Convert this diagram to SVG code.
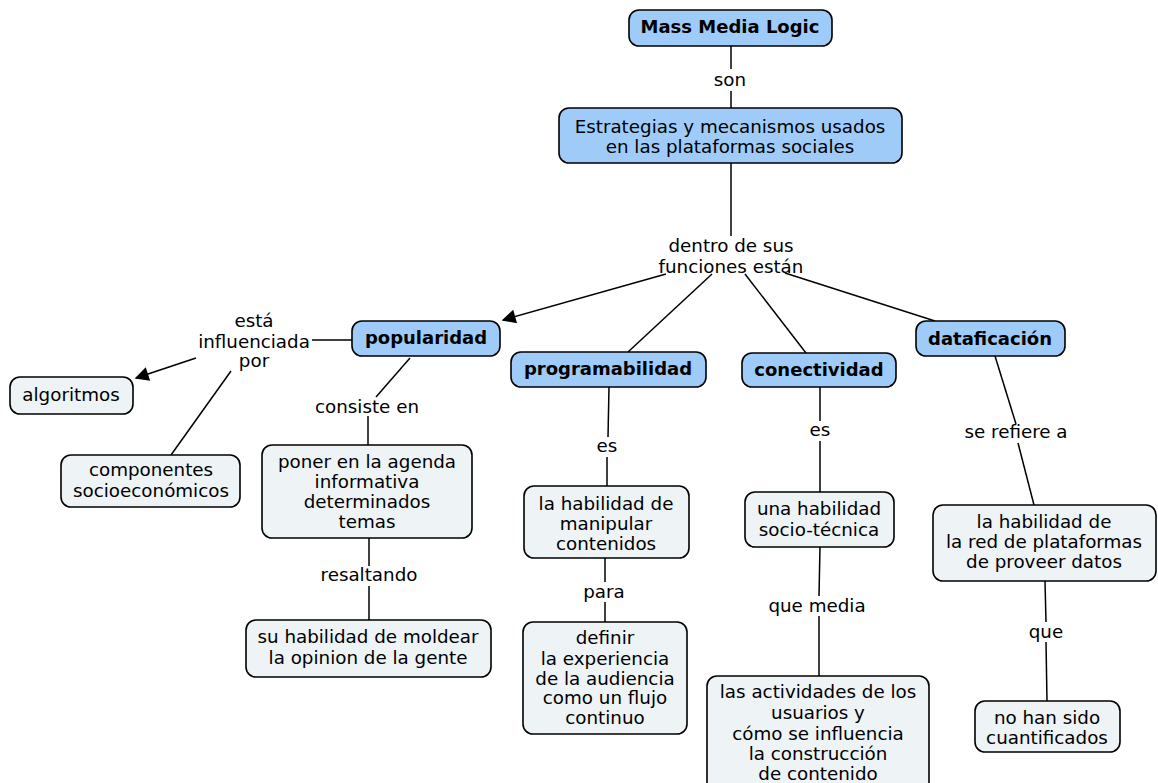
<svg xmlns="http://www.w3.org/2000/svg" width="1158" height="783" viewBox="0 0 1158 783">
<defs>
<style>
.b{fill:#9fcbf9;stroke:#000;stroke-width:1.6}
.l{fill:#eef3f6;stroke:#000;stroke-width:1.6}
text{font-family:"DejaVu Sans",Verdana,sans-serif;font-size:18.3px;text-anchor:middle;fill:#000}
.bt{font-weight:bold;font-size:18px}
.c line{stroke:#000;stroke-width:1.5}
</style>
<marker id="ah" viewBox="0 0 10 10" refX="9" refY="5" markerWidth="20" markerHeight="14" markerUnits="userSpaceOnUse" orient="auto"><path d="M0,0 L10,5 L0,10 z" fill="#000"/></marker>
</defs>
<rect width="1158" height="783" fill="#fff"/>
<g class="c">
<line x1="731" y1="46" x2="731" y2="69"/>
<line x1="731" y1="91" x2="731" y2="108"/>
<line x1="731" y1="163" x2="731" y2="236"/>
<line x1="666" y1="274" x2="503" y2="320" marker-end="url(#ah)"/>
<line x1="712" y1="274" x2="628" y2="352"/>
<line x1="745" y1="274" x2="806" y2="353"/>
<line x1="785" y1="273" x2="935" y2="321"/>
<line x1="352" y1="340" x2="312" y2="340"/>
<line x1="196" y1="358" x2="136" y2="378" marker-end="url(#ah)"/>
<line x1="231" y1="371" x2="171" y2="455"/>
<line x1="410" y1="358" x2="376" y2="397"/>
<line x1="368" y1="416" x2="368" y2="445"/>
<line x1="369" y1="538" x2="369" y2="566"/>
<line x1="369" y1="586" x2="369" y2="620"/>
<line x1="609" y1="387" x2="608" y2="437"/>
<line x1="607" y1="457" x2="607" y2="486"/>
<line x1="605" y1="558" x2="605" y2="582"/>
<line x1="605" y1="602" x2="605" y2="622"/>
<line x1="820" y1="387" x2="820" y2="421"/>
<line x1="820" y1="441" x2="820" y2="492"/>
<line x1="820" y1="547" x2="819" y2="596"/>
<line x1="819" y1="616" x2="819" y2="676"/>
<line x1="995" y1="356" x2="1016" y2="424"/>
<line x1="1018" y1="443" x2="1034" y2="505"/>
<line x1="1045" y1="581" x2="1046" y2="622"/>
<line x1="1046" y1="642" x2="1047" y2="701"/>
</g>
<g id="labels">
<text x="730" y="86">son</text>
<text x="731" y="252">dentro de sus</text>
<text x="731" y="273">funciones están</text>
<text x="254" y="327">está</text>
<text x="254" y="348">influenciada</text>
<text x="254" y="367">por</text>
<text x="367" y="413">consiste en</text>
<text x="369" y="581">resaltando</text>
<text x="607" y="452">es</text>
<text x="604" y="598">para</text>
<text x="820" y="436">es</text>
<text x="817" y="612">que media</text>
<text x="1016" y="438">se refiere a</text>
<text x="1046" y="638">que</text>
</g>
<g id="n1"><rect class="b" x="629" y="10" width="203" height="36" rx="10"/><text class="bt" x="730" y="33">Mass Media Logic</text></g>
<g id="n2"><rect class="b" x="559" y="108" width="343" height="55" rx="10"/><text x="730" y="133">Estrategias y mecanismos usados</text><text x="730" y="153">en las plataformas sociales</text></g>
<g id="n3"><rect class="b" x="352" y="321" width="148" height="35" rx="10"/><text class="bt" x="426" y="344">popularidad</text></g>
<g id="n4"><rect class="b" x="511" y="352" width="195" height="35" rx="10"/><text class="bt" x="608" y="375">programabilidad</text></g>
<g id="n5"><rect class="b" x="742" y="353" width="154" height="34" rx="10"/><text class="bt" x="819" y="376">conectividad</text></g>
<g id="n6"><rect class="b" x="916" y="321" width="149" height="35" rx="10"/><text class="bt" x="990" y="345">dataficación</text></g>
<g id="n7"><rect class="l" x="10" y="377" width="123" height="37" rx="10"/><text x="71" y="401">algoritmos</text></g>
<g id="n8"><rect class="l" x="61" y="455" width="179" height="52" rx="10"/><text x="151" y="476">componentes</text><text x="151" y="497">socioeconómicos</text></g>
<g id="n9"><rect class="l" x="262" y="445" width="210" height="93" rx="10"/><text x="367" y="468">poner en la agenda</text><text x="367" y="488">informativa</text><text x="367" y="508">determinados</text><text x="367" y="528">temas</text></g>
<g id="n10"><rect class="l" x="246" y="620" width="245" height="57" rx="10"/><text x="368" y="643">su habilidad de moldear</text><text x="368" y="664">la opinion de la gente</text></g>
<g id="n11"><rect class="l" x="524" y="486" width="165" height="72" rx="10"/><text x="606" y="510">la habilidad de</text><text x="606" y="530">manipular</text><text x="606" y="550">contenidos</text></g>
<g id="n12"><rect class="l" x="523" y="622" width="164" height="112" rx="10"/><text x="605" y="644">definir</text><text x="605" y="665">la experiencia</text><text x="605" y="685">de la audiencia</text><text x="605" y="704">como un flujo</text><text x="605" y="724">continuo</text></g>
<g id="n13"><rect class="l" x="745" y="492" width="149" height="55" rx="10"/><text x="819" y="515">una habilidad</text><text x="819" y="536">socio-técnica</text></g>
<g id="n14"><rect class="l" x="707" y="676" width="222" height="120" rx="10"/><text x="818" y="698">las actividades de los</text><text x="818" y="719">usuarios y</text><text x="818" y="740">cómo se influencia</text><text x="818" y="760">la construcción</text><text x="818" y="780">de contenido</text></g>
<g id="n15"><rect class="l" x="933" y="505" width="223" height="76" rx="10"/><text x="1044" y="528">la habilidad de</text><text x="1044" y="548">la red de plataformas</text><text x="1044" y="568">de proveer datos</text></g>
<g id="n16"><rect class="l" x="975" y="701" width="145" height="51" rx="10"/><text x="1047" y="724">no han sido</text><text x="1047" y="744">cuantificados</text></g>
</svg>
